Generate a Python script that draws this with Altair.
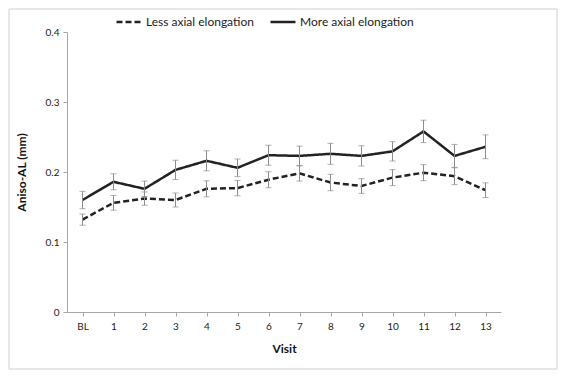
import altair as alt
import pandas as pd

visits = ["BL", "1", "2", "3", "4", "5", "6", "7", "8", "9", "10", "11", "12", "13"]
less_mean = [0.132, 0.156, 0.162, 0.160, 0.176, 0.177, 0.189, 0.198, 0.185, 0.180, 0.192, 0.199, 0.194, 0.174]
less_err = [0.008, 0.0105, 0.0095, 0.010, 0.0114, 0.011, 0.0114, 0.011, 0.0117, 0.0105, 0.0114, 0.0114, 0.012, 0.0105]
more_mean = [0.160, 0.186, 0.176, 0.203, 0.216, 0.206, 0.224, 0.223, 0.226, 0.223, 0.2295, 0.258, 0.223, 0.236]
more_err = [0.0124, 0.0114, 0.011, 0.0138, 0.0143, 0.0126, 0.0143, 0.014, 0.015, 0.0145, 0.0138, 0.016, 0.0164, 0.017]
groups = ["Less axial elongation", "More axial elongation"]

rows = []
for g, m, e in [(groups[0], less_mean, less_err), (groups[1], more_mean, more_err)]:
    for v, mv, ev in zip(visits, m, e):
        rows.append({"visit": v, "group": g, "mean": mv, "lo": mv - ev, "hi": mv + ev})
df = pd.DataFrame(rows)

FONT = "Lato"
xenc = alt.X("visit:N", sort=visits, title="Visit",
             scale=alt.Scale(type="point", padding=0.5),
             axis=alt.Axis(labelAngle=0, domainColor="#a6a6a6", tickColor="#a6a6a6",
                           tickSize=4, labelPadding=5, labelFontSize=10, labelColor="#222",
                           titleFontSize=12, titleFontWeight="bold", titlePadding=12,
                           titleColor="#111", grid=False))
yscale = alt.Scale(domain=[0, 0.4])

base = alt.Chart(df)

lines = base.mark_line(color="#222222", strokeWidth=2.5).encode(
    x=xenc,
    y=alt.Y("mean:Q", scale=yscale, title="Aniso-AL (mm)",
            axis=alt.Axis(values=[0, 0.1, 0.2, 0.3, 0.4], format=".1~f", domainColor="#a6a6a6",
                          tickColor="#a6a6a6", tickSize=4, labelPadding=4, labelFontSize=10,
                          labelColor="#222", titleFontSize=12, titleFontWeight="bold",
                          titlePadding=17, titleColor="#111", grid=False)),
    strokeDash=alt.StrokeDash("group:N", scale=alt.Scale(domain=groups, range=[[6, 3], [1, 0]]),
                              legend=alt.Legend(title=None, orient="none", direction="horizontal",
                                                legendX=48, legendY=-24, symbolType="stroke",
                                                symbolSize=625, symbolStrokeWidth=2.5,
                                                symbolStrokeColor="#222", labelFontSize=12,
                                                labelColor="#222", labelOffset=3,
                                                columnPadding=11)),
    detail="group:N",
)

rules = base.mark_rule(color="#8c8c8c", strokeWidth=1).encode(
    x=alt.X("visit:N", sort=visits), y="lo:Q", y2="hi:Q")
caps_lo = base.mark_tick(color="#8c8c8c", size=6, thickness=1).encode(
    x=alt.X("visit:N", sort=visits), y="lo:Q")
caps_hi = base.mark_tick(color="#8c8c8c", size=6, thickness=1).encode(
    x=alt.X("visit:N", sort=visits), y="hi:Q")

border = alt.Chart(pd.DataFrame({"a": [0]})).mark_rect(
    fill=None, stroke="#d0d0d0", strokeWidth=1).encode(
    x=alt.value(-58), x2=alt.value(490), y=alt.value(-23), y2=alt.value(337))

chart = alt.layer(border, lines, rules, caps_lo, caps_hi).properties(
    width=434, height=280,
    autosize=alt.AutoSizeParams(type="none"),
    padding={"left": 59, "top": 24, "right": 57, "bottom": 58},
).configure(font=FONT).configure_view(stroke=None)

chart.save("out.html", embed_options={"renderer": "svg", "actions": False})
